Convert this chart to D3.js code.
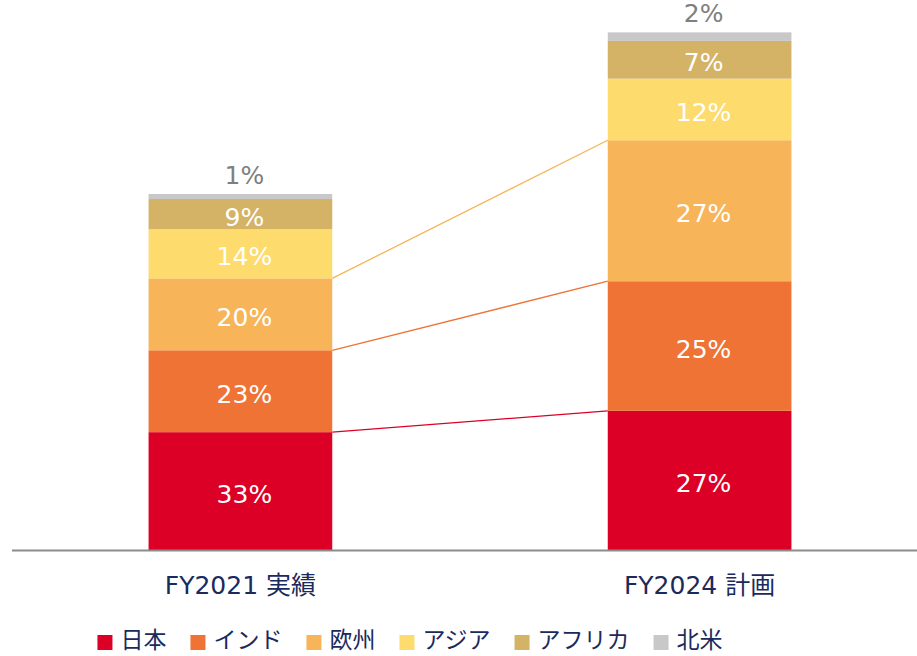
<!DOCTYPE html>
<html>
<head>
<meta charset="utf-8">
<script src="https://cdn.jsdelivr.net/npm/d3@7"></script>
<style>
	body { margin: 0; background: #fff; }
	svg { display: block; }
</style>
</head>
<body>
<svg id="chart" width="917" height="656"></svg>
<script>

// categories and regions
var categories = ["FY2021 実績", "FY2024 計画"];
var regions = ["日本", "インド", "欧州", "アジア", "アフリカ", "北米"];

// volume index (FY2021 = 100)
var values2021 = [33.1, 23.0, 20.2, 13.8, 8.5, 1.4];
var values2024 = [39.1, 36.4, 39.6, 17.3, 10.6, 2.4];

// share labels as printed
var labels2021 = ["33%", "23%", "20%", "14%", "9%", "1%"];
var labels2024 = ["27%", "25%", "27%", "12%", "7%", "2%"];

var regionColors = ["#dc0026", "#ee7334", "#f7b458", "#fddb6d", "#d4b367", "#c8c8c8"];

var TEXT_COLOR = "#1b2a5c";
var NUM_FONT = "'DejaVu Sans', Verdana, sans-serif";
var JP_FONT = "'Noto Sans CJK JP', sans-serif";
var MIX_FONT = "'DejaVu Sans', 'Noto Sans CJK JP', sans-serif";

var svg = d3.select("#chart");

var table = categories.map(function(c, i)
{
	var row = { category: c };
	var vals = i === 0 ? values2021 : values2024;
	regions.forEach(function(r, j) { row[r] = vals[j]; });
	return row;
});
var labels = [labels2021, labels2024];

var series = d3.stack().keys(regions)(table);

var xScale = d3.scaleBand()
	.domain(categories)
	.range([20, 920])
	.paddingInner(0.6)
	.paddingOuter(0.28);

var yScale = d3.scaleLinear()
	.domain([0, 150])
	.range([550, 16]);

var bw = xScale.bandwidth();

/**
 * connector lines between the bottom three segments
 */
[0, 1, 2].forEach(function(k)
{
	var s = series[k];
	svg.append("line")
		.attr("x1", xScale(categories[0]) + bw)
		.attr("y1", yScale(s[0][1]))
		.attr("x2", xScale(categories[1]))
		.attr("y2", yScale(s[1][1]))
		.style("stroke", regionColors[k])
		.style("stroke-width", 1.3);
});

/**
 * bars
 */
var layers = svg.selectAll(".layer")
	.data(series)
	.enter()
	.append("g")
		.attr("class", "layer")
		.style("fill", function(d, i) { return regionColors[i]; });

layers.selectAll("rect")
	.data(function(d) { return d; })
	.enter()
	.append("rect")
		.attr("x", function(d) { return xScale(d.data.category); })
		.attr("y", function(d) { return yScale(d[1]); })
		.attr("width", bw)
		.attr("height", function(d) { return yScale(d[0]) - yScale(d[1]); });

/**
 * value labels: inside for big segments, above the bar for the thin top one
 */
series.forEach(function(s, k)
{
	s.forEach(function(d, i)
	{
		var cx = xScale(d.data.category) + bw / 2 + 4;
		var outside = k === regions.length - 1;
		var cy = outside ? yScale(d[1]) - 19 : (yScale(d[0]) + yScale(d[1])) / 2 + 3;

		svg.append("text")
			.attr("x", cx)
			.attr("y", cy)
			.attr("text-anchor", "middle")
			.attr("dominant-baseline", "central")
			.style("font-family", NUM_FONT)
			.style("font-size", "25px")
			.style("fill", outside ? "#7f7f7f" : "#ffffff")
			.text(labels[i][k]);
	});
});

/**
 * base line
 */
svg.append("line")
	.attr("x1", 12)
	.attr("x2", 917)
	.attr("y1", yScale(0) + 0.5)
	.attr("y2", yScale(0) + 0.5)
	.style("stroke", "#8c8c8c")
	.style("stroke-width", 2);

/**
 * category labels
 */
svg.selectAll(".cat")
	.data(categories)
	.enter()
	.append("text")
		.attr("class", "cat")
		.attr("x", function(d) { return xScale(d) + bw / 2; })
		.attr("y", 594)
		.attr("text-anchor", "middle")
		.style("font-family", MIX_FONT)
		.style("font-size", "25px")
		.style("fill", TEXT_COLOR)
		.text(function(d) { return d; });

/**
 * legend, laid out left to right then centred
 */
var legend = svg.append("g").attr("class", "legend");
var lx = 0;
regions.forEach(function(r, i)
{
	legend.append("rect")
		.attr("x", lx)
		.attr("y", 635)
		.attr("width", 15)
		.attr("height", 15)
		.style("fill", regionColors[i]);

	var t = legend.append("text")
		.attr("x", lx + 23)
		.attr("y", 648)
		.style("font-family", JP_FONT)
		.style("font-size", "23px")
		.style("fill", TEXT_COLOR)
		.text(r);

	lx += 23 + t.node().getComputedTextLength();
	if(i < regions.length - 1)
		lx += 24;
});
legend.attr("transform", "translate(" + (410 - lx / 2) + ",0)");

</script>
</body>
</html>
